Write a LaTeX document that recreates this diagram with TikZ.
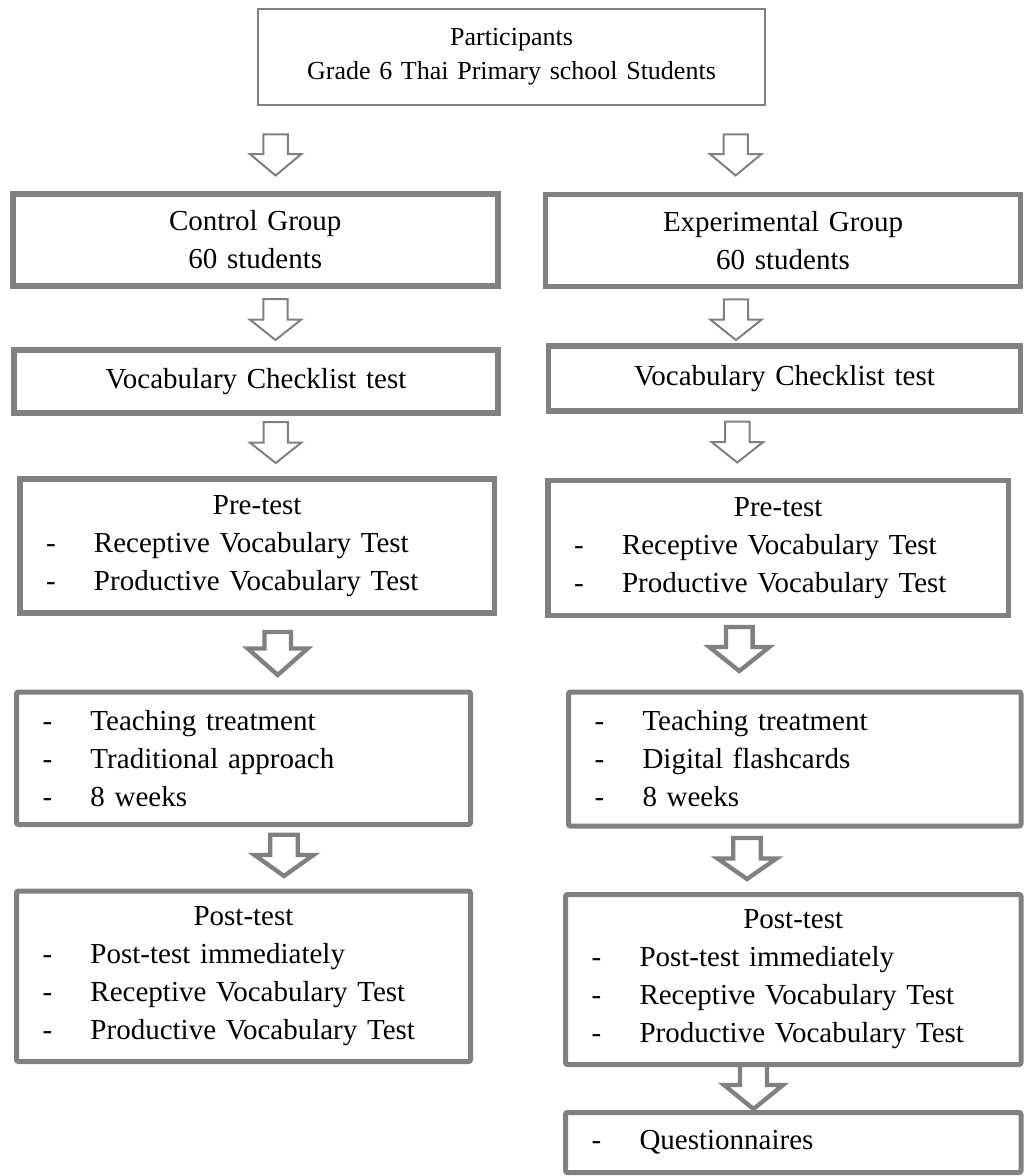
\documentclass[tikz,border=0pt]{standalone}
\usepackage{fontspec}
\setmainfont{Liberation Serif}
\definecolor{bordergray}{RGB}{128,128,128}
\newcommand\blkarrow[8]{% style, cx, top, headstart, tip, shaft half, head half, line width
  \draw[arrowshape, line width=#8pt, #1]
    ({#2-#6},#3) -- ({#2+#6},#3) -- ({#2+#6},#4) -- ({#2+#7},#4) -- (#2,#5)
    -- ({#2-#7},#4) -- ({#2-#6},#4) -- cycle;}
\newcommand\itm[1]{\hspace*{26pt}\makebox[48pt][l]{-}#1}
\tikzset{
  box/.style={draw=bordergray, rectangle, inner sep=0pt, text=black,
    font=\fontsize{29}{38}\selectfont},
  cbox/.style={box, align=center},
  lbox/.style={box, align=left, rounded corners=2pt},
  arrowshape/.style={draw=bordergray, fill=white, line join=miter},
}
\begin{document}
\begin{tikzpicture}[x=1pt, y=-1pt]
\useasboundingbox (0,0) rectangle (1024,1176);

% top box
\node[cbox, line width=2pt, text width=507pt, minimum height=96pt,
  font=\fontsize{26}{34}\selectfont] (part) at (511.5,57)
  {Participants\\Grade 6 Thai Primary school Students};

% group boxes
\node[cbox, line width=6pt, text width=484.5pt, minimum height=92pt] (ctrl) at (255.25,240)
  {Control Group\\60 students};
\node[cbox, line width=5.5pt, text width=475pt, minimum height=92pt] (exp) at (783,240.5)
  {Experimental Group\\60 students};

% vocabulary checklist
\node[cbox, line width=6pt, text width=484pt, minimum height=62.5pt] (vocL) at (256,381.25)
  {Vocabulary Checklist test};
\node[cbox, line width=5.5pt, text width=472pt, minimum height=65pt] (vocR) at (784.5,378.5)
  {Vocabulary Checklist test};

% pre-test
\node[box, align=left, line width=5.5pt, text width=474.5pt, minimum height=134pt] (preL) at (257.25,546)
  {\makebox[\linewidth]{Pre-test}\\\itm{Receptive Vocabulary Test}\\\itm{Productive Vocabulary Test}};
\node[box, align=left, line width=5.5pt, text width=460.5pt, minimum height=135pt] (preR) at (778.25,548)
  {\makebox[\linewidth]{Pre-test}\\\itm{Receptive Vocabulary Test}\\\itm{Productive Vocabulary Test}};

% teaching treatment
\node[lbox, line width=5pt, text width=454pt, minimum height=132.5pt] (teachL) at (243.5,758.25)
  {\itm{Teaching treatment}\\\itm{Traditional approach}\\\itm{8 weeks}};
\node[lbox, line width=5pt, text width=452.5pt, minimum height=134pt] (teachR) at (794.75,759)
  {\itm{Teaching treatment}\\\itm{Digital flashcards}\\\itm{8 weeks}};

% post-test
\node[lbox, line width=5pt, text width=454pt, minimum height=170.5pt] (postL) at (243.5,976.25)
  {\makebox[\linewidth]{Post-test}\\\itm{Post-test immediately}\\\itm{Receptive Vocabulary Test}\\\itm{Productive Vocabulary Test}};
\node[lbox, line width=5pt, text width=455.5pt, minimum height=170pt] (postR) at (793.25,979.5)
  {\makebox[\linewidth]{Post-test}\\\itm{Post-test immediately}\\\itm{Receptive Vocabulary Test}\\\itm{Productive Vocabulary Test}};

% questionnaires
\node[lbox, line width=5pt, text width=455.5pt, minimum height=60pt] (quest) at (793.25,1142.5)
  {\itm{Questionnaires}};

% block arrows
\blkarrow{}{275.6}{134.3}{154}{175.5}{12.2}{25.8}{2}
\blkarrow{}{735.7}{134.3}{154}{175.5}{12.2}{25.8}{2}
\blkarrow{}{275.5}{299}{319.5}{340}{12.2}{25.8}{2}
\blkarrow{}{736}{299.3}{319.5}{340}{12.2}{25.8}{2}
\blkarrow{}{275.7}{422}{442.5}{463}{12.2}{25.8}{2}
\blkarrow{}{737.3}{421.5}{442}{462.5}{12.2}{25.8}{2}
\blkarrow{}{277.7}{632}{648.5}{675}{13.3}{30}{4.3}
\blkarrow{}{739.3}{627}{647}{671}{13.3}{30}{4.3}
\blkarrow{}{284}{834.7}{855}{876}{13.8}{29.5}{4.3}
\blkarrow{}{747}{838}{858.5}{879}{13.8}{29.5}{4.3}
\blkarrow{}{753.5}{1065}{1085}{1109}{13.5}{29.5}{4.3}
\end{tikzpicture}
\end{document}
